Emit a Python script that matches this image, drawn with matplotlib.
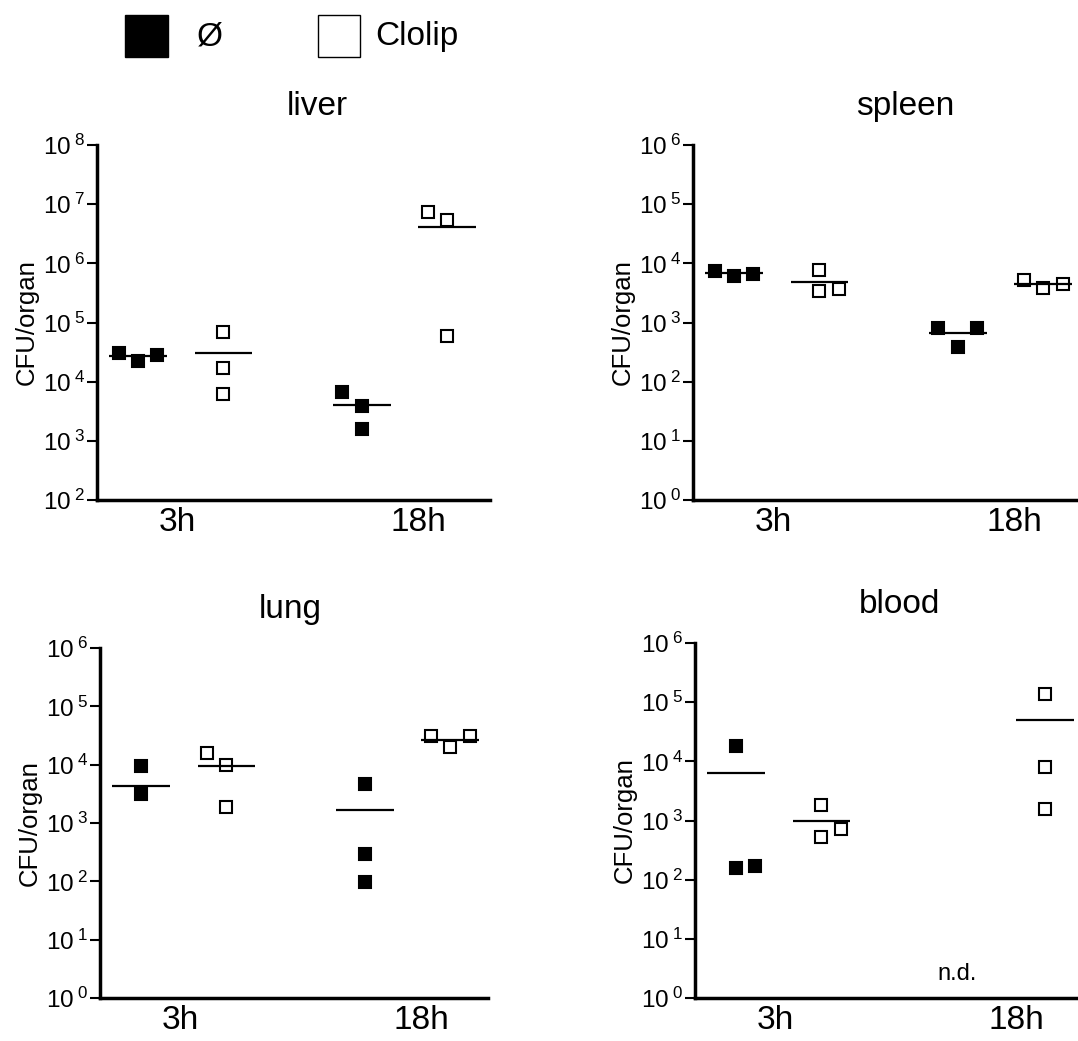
import matplotlib.pyplot as plt
from matplotlib.patches import Rectangle

plt.rcParams['font.family'] = ['Liberation Sans', 'DejaVu Sans']
plt.rcParams['mathtext.fontset'] = 'custom'
plt.rcParams['mathtext.rm'] = 'Liberation Sans'

organs = ['liver', 'spleen', 'lung', 'blood']
times = ['3h', '18h']
groups = ['Ø', 'Clolip']

# CFU/organ per group: Ø 3h, Clolip 3h, Ø 18h, Clolip 18h
liver = [[3.1e4, 2.2e4, 2.8e4], [6.9e4, 1.7e4, 6.2e3], [6.7e3, 3.9e3, 1.6e3], [7.4e6, 5.3e6, 5.9e4]]
spleen = [[7.4e3, 6.1e3, 6.6e3], [7.7e3, 3.4e3, 3.7e3], [8.1e2, 3.9e2, 8.1e2], [5.2e3, 3.8e3, 4.5e3]]
lung = [[9.5e3, 3.2e3], [1.6e4, 1.0e4, 1.9e3], [4.6e3, 2.9e2, 98], [3.1e4, 2.0e4, 3.1e4]]
blood = [[1.8e4, 1.6e2, 1.7e2], [1.8e3, 5.3e2, 7.2e2], [], [1.4e5, 7.9e3, 1.55e3]]

# group means (horizontal bars) as drawn
liver_mean = [2.7e4, 3.1e4, 4.1e3, 4.1e6]
spleen_mean = [6.9e3, 4.9e3, 6.6e2, 4.5e3]
lung_mean = [4.3e3, 9.6e3, 1.65e3, 2.6e4]
blood_mean = [6.3e3, 1.0e3, None, 5.0e4]

# y range as decades
liver_dec = (2, 8)
other_dec = (0, 6)

data = [liver, spleen, lung, blood]
means = [liver_mean, spleen_mean, lung_mean, blood_mean]
decades = [liver_dec, other_dec, other_dec, other_dec]

W, H = 1078, 1041
fig = plt.figure(figsize=(W / 100, H / 100), dpi=100)

# layout (pixels): left, top, right, bottom
boxes = [(97, 145, 490, 500), (693, 145, 1078, 500), (100, 648, 488, 998), (695, 643, 1078, 998)]
title_x = [0.56, 0.55, 0.49, 0.535]
unit = 41.0
pos = [1.0, 3.08, 6.46, 8.54]
lab_pos = [1.95, 7.85]
jit = 0.475
jitters = [
    [[-1, 0, 1], [0, 0, 0], [-1, 0, 0], [-1, 0, 0]],
    [[-1, 0, 1], [0, 0, 1], [-1, 0, 1], [-1, 0, 1]],
    [[0, 0], [-1, 0, 0], [0, 0, 0], [-1, 0, 1]],
    [[0, 0, 1], [0, 0, 1], [], [0, 0, 0]],
]

for i in range(4):
    l, t, r, b = boxes[i]
    ax = fig.add_axes([l / W, 1 - b / H, (r - l) / W, (b - t) / H])
    lo, hi = decades[i]
    ax.set_yscale('log')
    ax.set_ylim(10 ** lo, 10 ** hi)
    ax.set_xlim(0, (r - l) / unit)
    ax.minorticks_off()
    yt = [10 ** k for k in range(lo, hi + 1)]
    ax.set_yticks(yt)
    ax.set_yticklabels([r'$\mathregular{10^{\;%d}}$' % k for k in range(lo, hi + 1)])
    ax.set_xticks(lab_pos)
    ax.set_xticklabels(times, fontsize=24)
    ax.tick_params(axis='x', length=0, pad=5)
    ax.tick_params(axis='y', length=7, width=1.5, pad=1, labelsize=17.5)
    for s in ['top', 'right']:
        ax.spines[s].set_visible(False)
    for s in ['left', 'bottom']:
        ax.spines[s].set_linewidth(2.5)
    ax.set_ylabel('CFU/organ', fontsize=18.5, labelpad=3)
    ax.text(title_x[i], 1 + 30 / (b - t), organs[i], transform=ax.transAxes,
            ha='center', va='baseline', fontsize=24)

    for g in range(4):
        vals = data[i][g]
        filled = g % 2 == 0
        xs = [pos[g] + j * jit for j in jitters[i][g]]
        if vals:
            ax.plot(xs, vals, 's', ms=8.4, mew=1.5, mec='black',
                    mfc='black' if filled else 'white', clip_on=False, zorder=3)
        m = means[i][g]
        if m is not None:
            ax.hlines(m, pos[g] - 0.7, pos[g] + 0.7, color='black', lw=1.6, zorder=4)

    if i == 3:
        ax.text(pos[2] - 0.07, 2.5, 'n.d.', ha='center', va='center', fontsize=17)

# legend on top
fig.add_artist(Rectangle((125 / W, 1 - 57 / H), 43 / W, 42 / H, transform=fig.transFigure,
                         facecolor='black', edgecolor='black', lw=1))
fig.add_artist(Rectangle((318 / W, 1 - 57 / H), 42 / W, 42 / H, transform=fig.transFigure,
                         facecolor='white', edgecolor='black', lw=1))
fig.text(210 / W, 1 - 37 / H, groups[0], ha='center', va='center', fontsize=24)
fig.text(375 / W, 1 - 37 / H, groups[1], ha='left', va='center', fontsize=24)

fig.savefig('out.png', dpi=100)
